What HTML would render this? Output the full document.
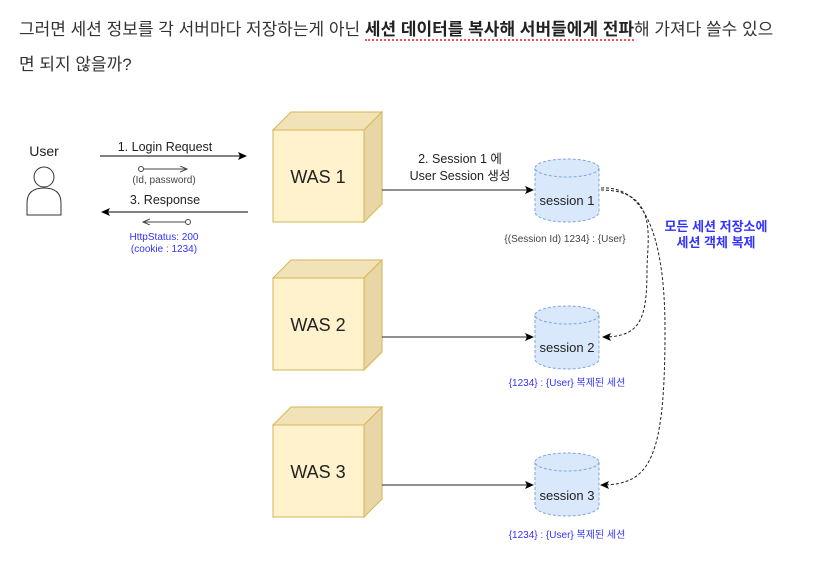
<!DOCTYPE html>
<html><head><meta charset="utf-8"><style>
html,body{margin:0;padding:0;background:#fff;width:827px;height:571px;overflow:hidden}
.p{position:absolute;left:19px;font-family:"Liberation Sans","Noto Sans CJK KR",sans-serif;font-size:17px;color:#333;white-space:nowrap}
b{font-weight:bold;color:#222}
.u{border-bottom:2px dotted #e55;padding-bottom:0px}
svg{position:absolute;left:0;top:0}
svg text{font-family:"Liberation Sans","Noto Sans CJK KR",sans-serif}
</style></head><body>
<div class="p" style="top:15px">그러면 세션 정보를 각 서버마다 저장하는게 아닌 <b class="u">세션 데이터를 복사해 서버들에게 전파</b>해 가져다 쓸수 있으</div>
<div class="p" style="top:50px">면 되지 않을까?</div>
<svg width="827" height="571" viewBox="0 0 827 571">
<defs>
<marker id="a" markerWidth="10" markerHeight="10" refX="8" refY="4" orient="auto" markerUnits="userSpaceOnUse"><path d="M0,0 L9,4 L0,8 L2,4 Z" fill="#000"/></marker>
<marker id="s" markerWidth="8" markerHeight="8" refX="7" refY="3" orient="auto" markerUnits="userSpaceOnUse"><path d="M0,0 L7,3 L0,6" fill="none" stroke="#444"/></marker>
<marker id="o" markerWidth="8" markerHeight="8" refX="4" refY="4" markerUnits="userSpaceOnUse"><circle cx="4" cy="4" r="2.5" fill="#fff" stroke="#444"/></marker>
</defs>
<text x="44" y="156" font-size="14" text-anchor="middle" fill="#222">User</text>
<circle cx="44" cy="177" r="10" fill="#fff" stroke="#333"/>
<path d="M27,215 L27,203 Q27,188 44,188 Q61,188 61,203 L61,215 Z" fill="#fff" stroke="#333"/>
<text x="165" y="151" font-size="12.5" text-anchor="middle" fill="#222">1. Login Request</text>
<line x1="100" y1="156" x2="246" y2="156" stroke="#000" marker-end="url(#a)"/>
<line x1="141" y1="169" x2="187" y2="169" stroke="#444" marker-start="url(#o)" marker-end="url(#s)"/>
<text x="164" y="183" font-size="10" text-anchor="middle" fill="#444">(Id, password)</text>
<text x="165" y="204" font-size="12.5" text-anchor="middle" fill="#222">3. Response</text>
<line x1="248" y1="212" x2="102" y2="212" stroke="#000" marker-end="url(#a)"/>
<line x1="188" y1="222" x2="143" y2="222" stroke="#444" marker-start="url(#o)" marker-end="url(#s)"/>
<text x="164" y="240" font-size="10" text-anchor="middle" fill="#3333ff">HttpStatus: 200</text>
<text x="164" y="252" font-size="10" text-anchor="middle" fill="#3333ff">(cookie : 1234)</text>
<g id="c1">
<path d="M273,130 L291,112 L382,112 L364,130 Z" fill="#f2e2b8" stroke="#d6b656"/>
<path d="M364,130 L382,112 L382,204 L364,222 Z" fill="#e8d6a6" stroke="#d6b656"/>
<rect x="273" y="130" width="91" height="92" fill="#fff2cc" stroke="#d6b656"/>
</g>
<use href="#c1" y="148"/>
<use href="#c1" y="295"/>
<text x="318" y="183" font-size="18" text-anchor="middle" fill="#222">WAS 1</text>
<text x="318" y="331" font-size="18" text-anchor="middle" fill="#222">WAS 2</text>
<text x="318" y="478" font-size="18" text-anchor="middle" fill="#222">WAS 3</text>
<line x1="382" y1="190" x2="533" y2="190" stroke="#222" marker-end="url(#a)"/>
<line x1="382" y1="337" x2="533" y2="337" stroke="#222" marker-end="url(#a)"/>
<line x1="382" y1="485" x2="533" y2="485" stroke="#222" marker-end="url(#a)"/>
<text x="460" y="163" font-size="12.5" text-anchor="middle" fill="#222">2.  Session 1 에</text>
<text x="460" y="180" font-size="12.5" text-anchor="middle" fill="#222">User Session 생성</text>
<g id="cy" stroke="#7ea6e0" stroke-dasharray="3,2" fill="#dae8fc">
<path d="M535,168 L535,212 A32,10 0 0 0 599,212 L599,168"/>
<ellipse cx="567" cy="168" rx="32" ry="9"/>
</g>
<use href="#cy" y="147"/>
<use href="#cy" y="294"/>
<text x="567" y="205" font-size="13" text-anchor="middle" fill="#222">session 1</text>
<text x="567" y="352" font-size="13" text-anchor="middle" fill="#222">session 2</text>
<text x="567" y="500" font-size="13" text-anchor="middle" fill="#222">session 3</text>
<text x="565" y="242" font-size="10" text-anchor="middle" fill="#444">{(Session Id) 1234} : {User}</text>
<text x="567" y="386" font-size="10" text-anchor="middle" fill="#3333ff">{1234} : {User}  복제된 세션</text>
<text x="567" y="538" font-size="10" text-anchor="middle" fill="#3333ff">{1234} : {User}  복제된 세션</text>
<path d="M601,190 C660,190 647,240 647,270 C647,320 640,337 603,337" fill="none" stroke="#222" stroke-dasharray="3,2" marker-end="url(#a)"/>
<path d="M601,188 C650,185 665,250 665,330 C665,460 650,485 601,485" fill="none" stroke="#222" stroke-dasharray="3,2" marker-end="url(#a)"/>
<text x="716" y="231" font-size="13" font-weight="bold" text-anchor="middle" fill="#3333ff">모든 세션 저장소에</text>
<text x="716" y="247" font-size="13" font-weight="bold" text-anchor="middle" fill="#3333ff">세션 객체 복제</text>
</svg>
</body></html>
